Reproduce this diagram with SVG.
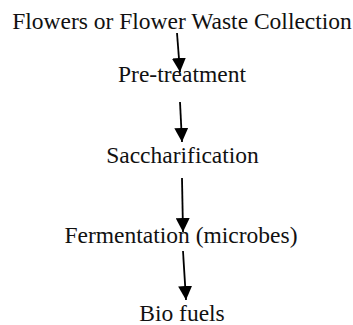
<svg xmlns="http://www.w3.org/2000/svg" width="353" height="325" viewBox="0 0 353 325">
<style>
.t{font-family:"Liberation Serif","Times New Roman",serif;font-size:23.5px;fill:#111;text-anchor:middle}
.c{stroke:#000;stroke-width:1.8;fill:none}
</style>
<defs>
<marker id="ah" viewBox="0 0 14 14" markerWidth="14" markerHeight="14" refX="14" refY="7" orient="auto" markerUnits="userSpaceOnUse">
<path d="M0,0 L14,7 L0,14 z" fill="#000"/>
</marker>
</defs>
<rect width="353" height="325" fill="#fff"/>
<g id="n1"><text class="t" x="182" y="29">Flowers or Flower Waste Collection</text></g>
<g id="n2"><text class="t" x="182" y="82">Pre-treatment</text></g>
<g id="n3"><text class="t" x="182.5" y="163">Saccharification</text></g>
<g id="n4"><text class="t" x="181" y="243">Fermentation (microbes)</text></g>
<g id="n5"><text class="t" x="182" y="321">Bio fuels</text></g>
<g id="connectors">
<line class="c" x1="177" y1="33" x2="180" y2="72" marker-end="url(#ah)"/>
<line class="c" x1="180" y1="102" x2="182" y2="142" marker-end="url(#ah)"/>
<line class="c" x1="182" y1="178" x2="183" y2="232" marker-end="url(#ah)"/>
<line class="c" x1="183" y1="251" x2="186" y2="300" marker-end="url(#ah)"/>
</g>
</svg>
